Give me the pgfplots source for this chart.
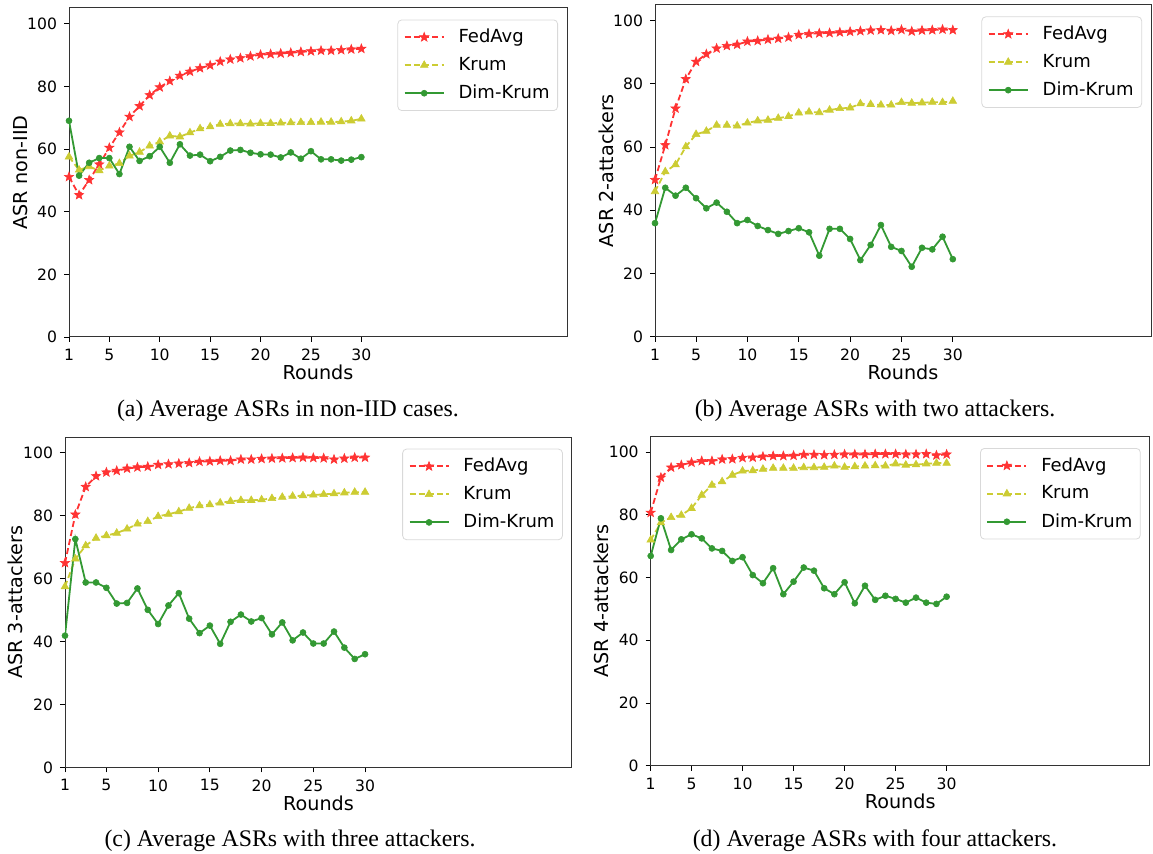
\documentclass[border=0pt]{standalone}
\usepackage{fontspec}
\setmainfont{Liberation Serif}
\newfontfamily\dejavu{DejaVu Sans}
\usepackage{pgfplots}
\pgfplotsset{compat=1.18}
\usepackage{pgfplotstable}
\usetikzlibrary{plotmarks}

\definecolor{fedred}{RGB}{255,51,51}
\definecolor{krumyel}{RGB}{204,204,51}
\definecolor{dimgreen}{RGB}{51,153,51}

% filled five-pointed star, like matplotlib's '*'
\pgfdeclareplotmark{fstar}{%
  \pgfpathmoveto{\pgfpointpolar{90}{\pgfplotmarksize}}%
  \pgfpathlineto{\pgfpointpolar{126}{0.42\pgfplotmarksize}}%
  \pgfpathlineto{\pgfpointpolar{162}{\pgfplotmarksize}}%
  \pgfpathlineto{\pgfpointpolar{198}{0.42\pgfplotmarksize}}%
  \pgfpathlineto{\pgfpointpolar{234}{\pgfplotmarksize}}%
  \pgfpathlineto{\pgfpointpolar{270}{0.42\pgfplotmarksize}}%
  \pgfpathlineto{\pgfpointpolar{306}{\pgfplotmarksize}}%
  \pgfpathlineto{\pgfpointpolar{342}{0.42\pgfplotmarksize}}%
  \pgfpathlineto{\pgfpointpolar{18}{\pgfplotmarksize}}%
  \pgfpathlineto{\pgfpointpolar{54}{0.42\pgfplotmarksize}}%
  \pgfpathclose
  \pgfusepathqfillstroke
}

% columns: round, FedAvg, Krum, Dim-Krum
\pgfplotstableread{
x fed krum dim
1 51.1 57.5 69.0
2 45.3 53.3 51.5
3 50.1 54.4 55.6
4 55.1 53.1 57.1
5 60.4 54.6 57.1
6 65.3 55.4 52.0
7 70.3 57.8 60.7
8 73.7 59.0 56.2
9 77.2 61.0 57.7
10 79.7 62.3 60.7
11 81.7 64.2 55.6
12 83.4 63.9 61.5
13 84.7 65.2 57.9
14 85.8 66.5 58.2
15 86.7 67.1 56.1
16 87.9 67.9 57.5
17 88.6 68.1 59.5
18 89.0 68.1 59.7
19 89.6 68.0 58.8
20 90.1 68.2 58.3
21 90.3 68.2 58.2
22 90.5 68.3 57.3
23 90.7 68.4 58.9
24 91.0 68.5 56.9
25 91.2 68.5 59.3
26 91.4 68.6 56.7
27 91.4 68.6 56.7
28 91.6 68.7 56.3
29 91.8 69.0 56.6
30 92.0 69.6 57.4
}\tA

\pgfplotstableread{
x fed krum dim
1 49.6 45.9 35.9
2 60.6 52.2 47.1
3 72.2 54.4 44.6
4 81.5 60.1 47.1
5 87.0 64.0 43.8
6 89.4 65.0 40.6
7 91.2 66.9 42.4
8 92.0 66.9 39.5
9 92.4 66.7 35.9
10 93.4 67.6 36.9
11 93.6 68.3 35.0
12 94.0 68.5 33.7
13 94.3 69.1 32.5
14 94.7 69.7 33.4
15 95.5 70.8 34.3
16 95.8 71.1 33.0
17 96.0 70.9 25.6
18 96.1 71.7 34.1
19 96.3 72.2 34.1
20 96.5 72.4 30.9
21 96.7 73.7 24.2
22 96.9 73.5 29.0
23 97.0 73.3 35.3
24 96.8 73.3 28.4
25 97.1 74.1 27.1
26 96.6 73.9 22.1
27 96.9 74.0 28.1
28 97.0 74.2 27.6
29 97.2 74.1 31.6
30 97.0 74.5 24.5
}\tB

\pgfplotstableread{
x fed krum dim
1 65.0 57.5 41.9
2 80.4 66.3 72.6
3 89.2 70.5 58.8
4 92.6 72.9 58.8
5 93.8 73.7 57.1
6 94.3 74.5 52.1
7 95.0 75.8 52.3
8 95.4 77.4 56.9
9 95.6 78.2 50.1
10 96.2 79.8 45.6
11 96.4 80.5 51.5
12 96.6 81.3 55.4
13 96.8 82.4 47.3
14 97.2 83.2 42.7
15 97.3 83.5 45.1
16 97.5 84.1 39.3
17 97.5 84.6 46.3
18 97.9 84.9 48.6
19 97.9 84.9 46.4
20 98.1 85.1 47.5
21 98.2 85.5 42.3
22 98.3 85.9 46.1
23 98.4 86.2 40.4
24 98.5 86.4 42.9
25 98.4 86.6 39.4
26 98.3 86.8 39.4
27 97.9 87.0 43.2
28 98.2 87.3 38.1
29 98.5 87.5 34.5
30 98.5 87.5 36.0
}\tC

\pgfplotstableread{
x fed krum dim
1 80.7 72.0 66.9
2 91.9 77.5 78.9
3 95.1 79.2 68.8
4 95.9 79.9 72.2
5 96.7 82.1 73.8
6 97.2 86.3 72.5
7 97.2 89.5 69.3
8 97.7 90.6 68.5
9 97.8 92.7 65.3
10 98.2 94.0 66.5
11 98.3 94.1 60.8
12 98.6 94.6 58.2
13 98.8 94.9 63.0
14 98.8 94.9 54.7
15 98.9 94.9 58.7
16 99.2 95.1 63.2
17 99.2 95.1 62.2
18 99.1 95.2 56.6
19 99.2 95.6 54.7
20 99.3 95.2 58.5
21 99.3 95.4 51.8
22 99.3 95.6 57.4
23 99.4 95.7 52.9
24 99.4 95.6 54.2
25 99.4 96.3 53.2
26 99.3 95.9 52.0
27 99.3 96.0 53.6
28 99.4 96.3 52.0
29 99.0 96.5 51.6
30 99.3 96.5 53.9
}\tD

\pgfplotsset{
  panel/.style={
    scale only axis,
    ymin=0, ymax=105, xmin=1,
    xtick={1,5,10,15,20,25,30},
    ytick={0,20,40,60,80,100},
    tick align=outside, xtick pos=left, ytick pos=left,
    major tick length=2.5pt,
    every tick/.style={black, line width=0.4pt},
    axis line style={black!80, line width=0.5pt},
    /pgf/number format/assume math mode=true,
    tick label style={font=\dejavu\fontsize{7.8}{9}\selectfont},
    label style={font=\dejavu\fontsize{9.6}{11}\selectfont},
    xlabel={Rounds},
    xlabel style={at={(axis description cs:0.5,-0.108)}, anchor=center},
    ylabel style={at={(axis description cs:-0.098,0.5)}, anchor=center},
    legend cell align=left,
    legend style={at={(0.982,0.965)}, anchor=north east, draw=black!15,
      rounded corners=2pt, font=\dejavu\fontsize{9}{10.8}\selectfont,
      inner xsep=3pt, inner ysep=3.5pt, row sep=3.8pt,
      nodes={inner sep=1pt},
      /tikz/every odd column/.append style={column sep=6pt}},
    legend image code/.code={\draw[sharp corners,mark repeat=2,mark phase=2,##1]
      plot coordinates {(0pt,0pt) (9.75pt,0pt) (19.5pt,0pt)};},
  },
  fed/.style={color=fedred, draw=fedred, line width=0.9pt, dash pattern=on 3pt off 1.6pt,
    mark=fstar, mark size=2.4pt,
    mark options={solid, draw=fedred, fill=fedred, line width=0.3pt}},
  krum/.style={color=krumyel, draw=krumyel, line width=0.9pt, dash pattern=on 3pt off 1.6pt,
    mark=triangle*, mark size=2.2pt,
    mark options={solid, draw=krumyel, fill=krumyel, line width=0.3pt}},
  dim/.style={color=dimgreen, draw=dimgreen, line width=0.9pt,
    mark=*, mark size=1.5pt,
    mark options={solid, draw=dimgreen, fill=dimgreen, line width=0.3pt}},
}

\begin{document}
\begin{tikzpicture}
\useasboundingbox (0,0) rectangle (576.5pt,-427pt);

\begin{axis}[panel, at={(34.5pt,-168.5pt)}, anchor=south west,
  width=249pt, height=164.5pt, xmax=50.4, ylabel={ASR non-IID}]
\addplot[fed] table[x=x,y=fed]{\tA}; \addlegendentry{FedAvg}
\addplot[krum] table[x=x,y=krum]{\tA}; \addlegendentry{Krum}
\addplot[dim] table[x=x,y=dim]{\tA}; \addlegendentry{Dim-Krum}
\end{axis}

\begin{axis}[panel, at={(327.5pt,-168.3pt)}, anchor=south west,
  width=248pt, height=165.9pt, xmax=49.3, ylabel={ASR 2-attackers}]
\addplot[fed] table[x=x,y=fed]{\tB}; \addlegendentry{FedAvg}
\addplot[krum] table[x=x,y=krum]{\tB}; \addlegendentry{Krum}
\addplot[dim] table[x=x,y=dim]{\tB}; \addlegendentry{Dim-Krum}
\end{axis}

\begin{axis}[panel, at={(32.5pt,-383.75pt)}, anchor=south west,
  width=253.5pt, height=165.2pt, xmax=50, ylabel={ASR 3-attackers}]
\addplot[fed] table[x=x,y=fed]{\tC}; \addlegendentry{FedAvg}
\addplot[krum] table[x=x,y=krum]{\tC}; \addlegendentry{Krum}
\addplot[dim] table[x=x,y=dim]{\tC}; \addlegendentry{Dim-Krum}
\end{axis}

\begin{axis}[panel, at={(325.35pt,-382.85pt)}, anchor=south west,
  width=249.5pt, height=164.6pt, xmax=49.9, ylabel={ASR 4-attackers}]
\addplot[fed] table[x=x,y=fed]{\tD}; \addlegendentry{FedAvg}
\addplot[krum] table[x=x,y=krum]{\tD}; \addlegendentry{Krum}
\addplot[dim] table[x=x,y=dim]{\tD}; \addlegendentry{Dim-Krum}
\end{axis}

\node[anchor=base, font=\fontsize{11.9}{14}\selectfont] at (144pt,-208.5pt) {(a) Average ASRs in non-IID cases.};
\node[anchor=base, font=\fontsize{11.9}{14}\selectfont] at (437.5pt,-208.5pt) {(b) Average ASRs with two attackers.};
\node[anchor=base, font=\fontsize{11.9}{14}\selectfont] at (145pt,-423.5pt) {(c) Average ASRs with three attackers.};
\node[anchor=base, font=\fontsize{11.9}{14}\selectfont] at (437.5pt,-423.5pt) {(d) Average ASRs with four attackers.};
\end{tikzpicture}
\end{document}
